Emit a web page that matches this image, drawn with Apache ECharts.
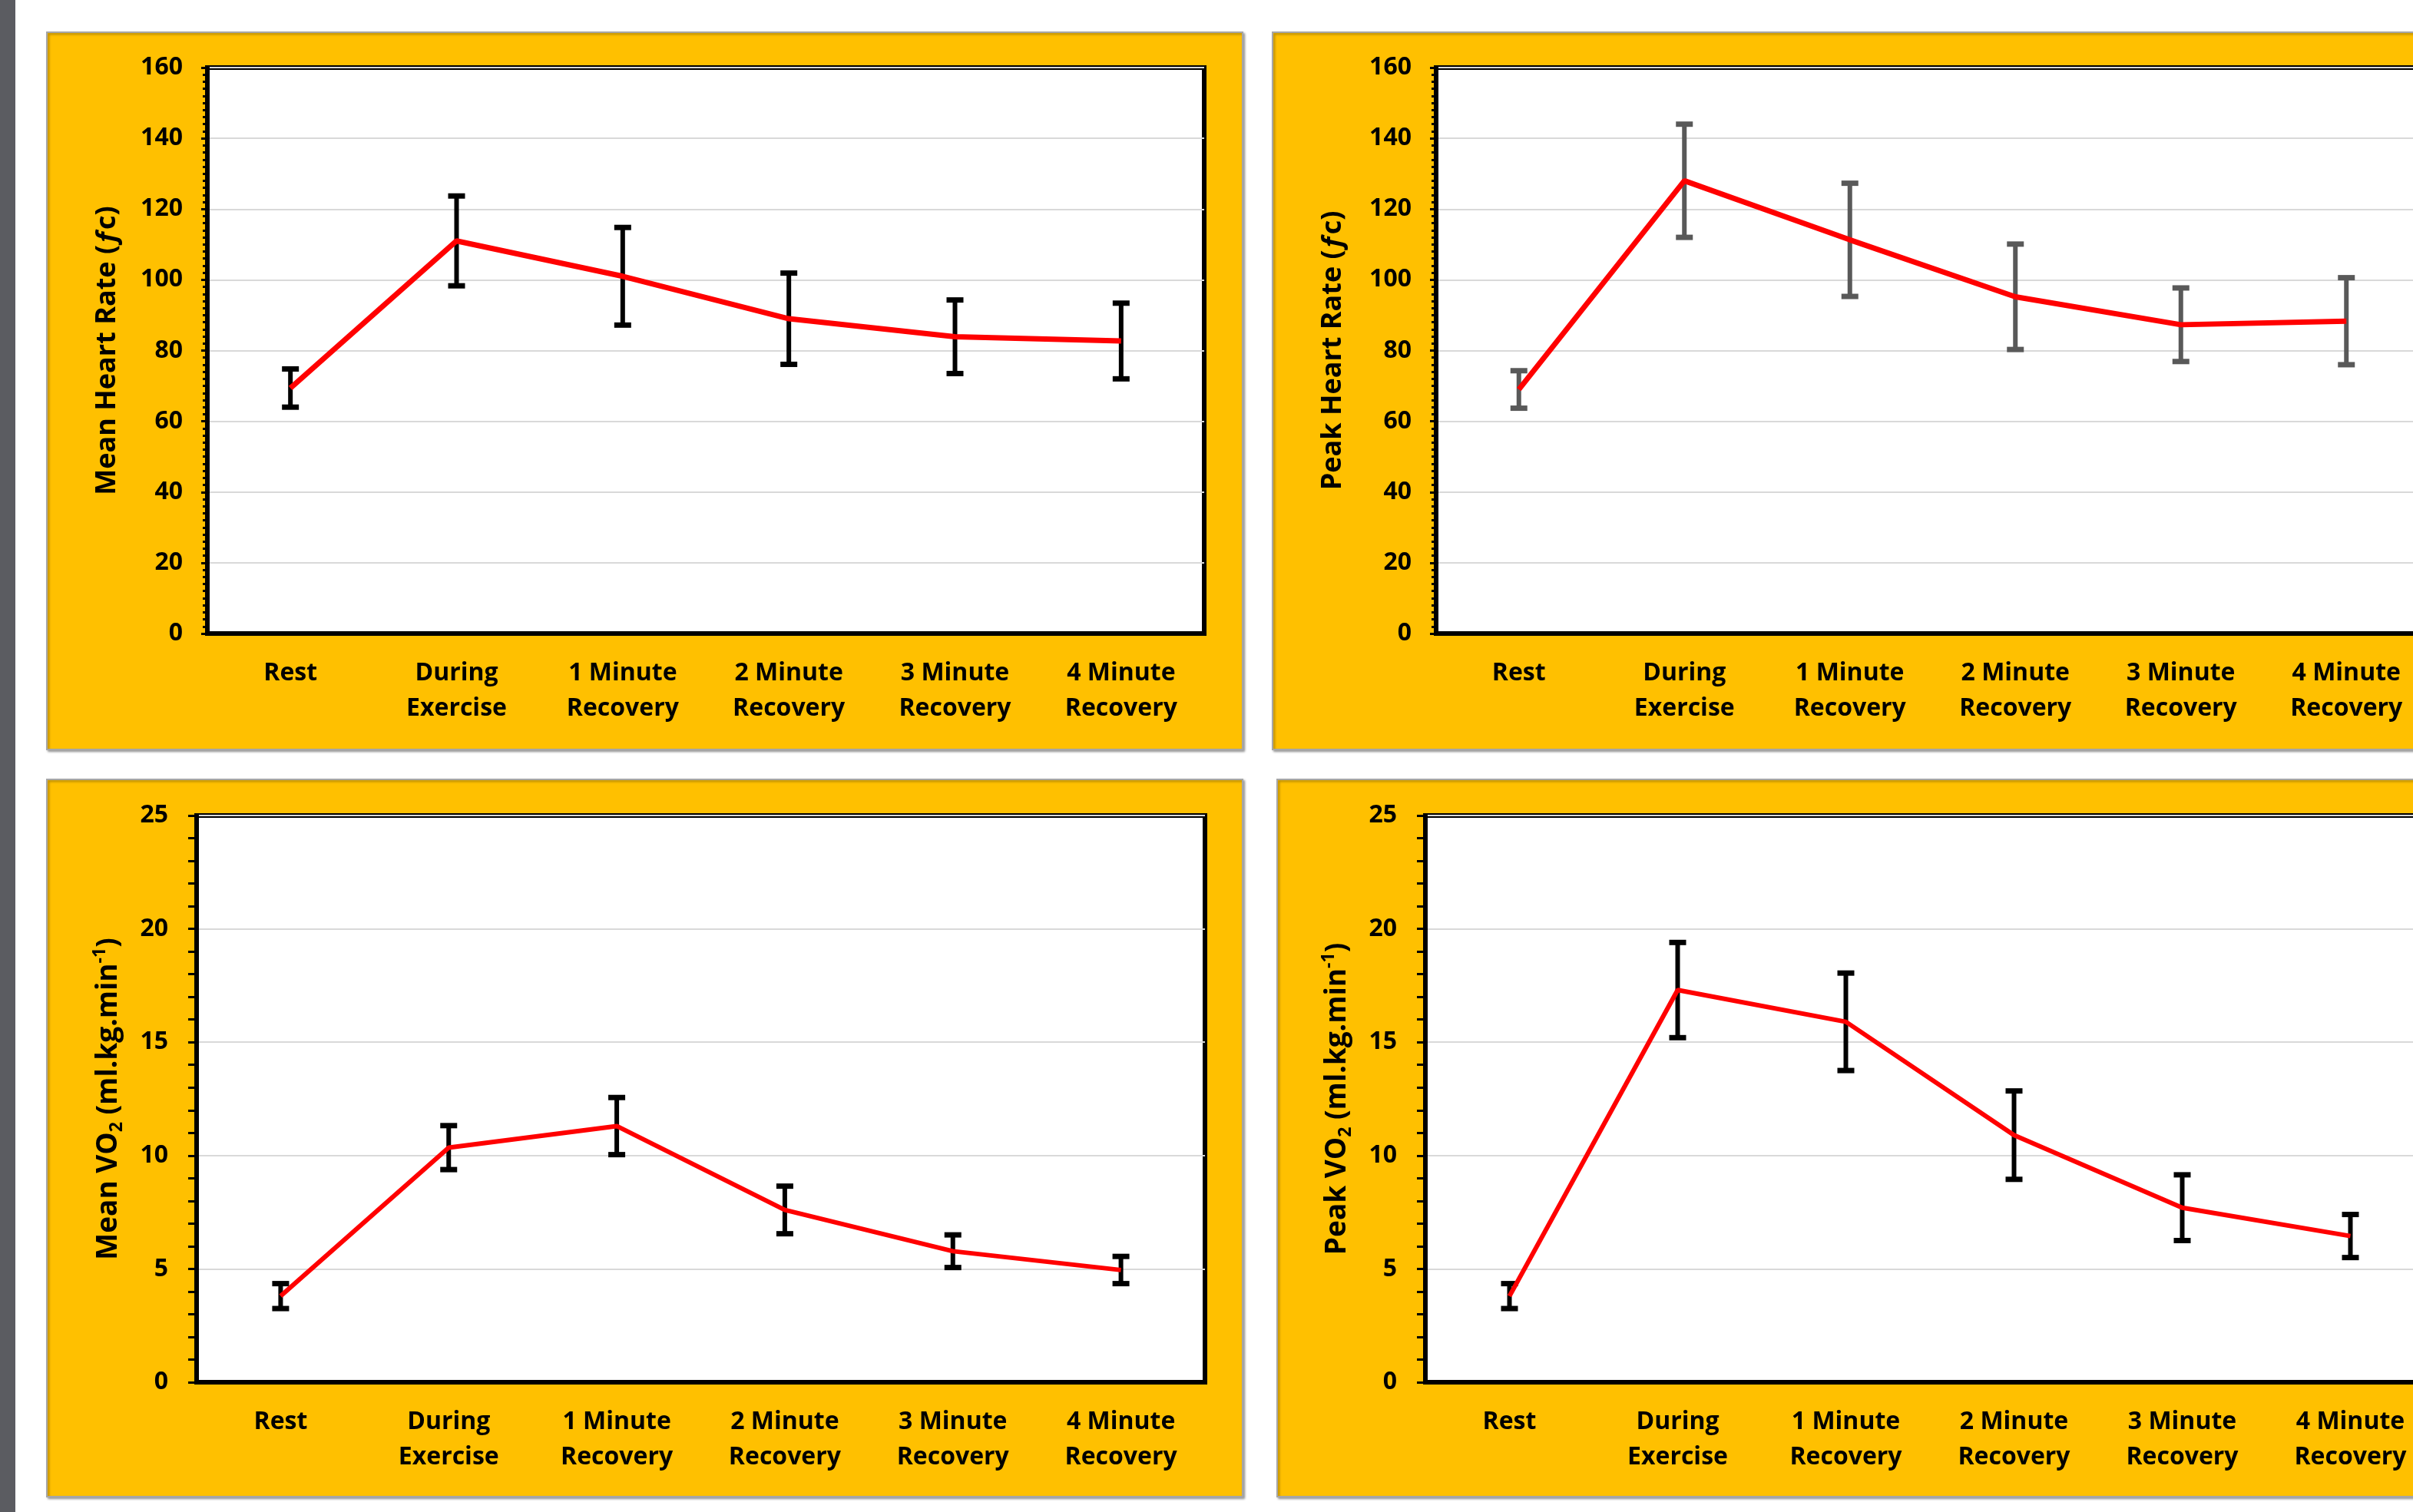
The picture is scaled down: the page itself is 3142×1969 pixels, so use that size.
<!DOCTYPE html>
<html>
<head>
<meta charset="utf-8">
<script src="https://cdn.jsdelivr.net/npm/echarts@6/dist/echarts.min.js"></script>
<style>
html,body{margin:0;padding:0;background:#fff;overflow:hidden;width:3142px;height:1969px;}
#strip{position:absolute;left:0;top:0;width:20px;height:1969px;background:#5b5c61;}
#chart{position:absolute;left:0;top:0;width:3300px;height:1969px;}
</style>
</head>
<body>
<div id="chart"></div>
<div id="strip"></div>
<script>
// ---- data ----
var categories = ['Rest', 'During\nExercise', '1 Minute\nRecovery', '2 Minute\nRecovery', '3 Minute\nRecovery', '4 Minute\nRecovery'];
var meanHR   = [69.4, 111, 101, 89, 83.9, 82.7];
var meanHRsd = [5.4, 12.7, 13.8, 12.9, 10.4, 10.7];
var peakHR   = [69, 128, 111.3, 95.2, 87.3, 88.3];
var peakHRsd = [5.3, 16, 16, 14.9, 10.4, 12.3];
var meanVO2   = [3.8, 10.35, 11.3, 7.6, 5.78, 4.95];
var meanVO2sd = [0.55, 0.97, 1.26, 1.05, 0.72, 0.6];
var peakVO2   = [3.8, 17.3, 15.9, 10.9, 7.7, 6.45];
var peakVO2sd = [0.55, 2.1, 2.15, 1.95, 1.45, 0.95];
var hrTicks  = {min: 0, max: 160, interval: 20};
var vo2Ticks = {min: 0, max: 25, interval: 5};

var FONT = '"Open Sans", "DejaVu Sans", sans-serif';

function errData(m, s) { return m.map(function (v, i) { return [i, v, s[i]]; }); }

function errRender(color, lw, capW) {
  return function (params, api) {
    var x = api.value(0), m = api.value(1), e = api.value(2);
    var hi = api.coord([x, m + e]), lo = api.coord([x, m - e]);
    var st = {stroke: color, lineWidth: lw};
    var cs = {stroke: color, lineWidth: lw + 1};
    return {type: 'group', children: [
      {type: 'line', shape: {x1: hi[0], y1: hi[1], x2: lo[0], y2: lo[1]}, style: st},
      {type: 'line', shape: {x1: hi[0] - capW / 2, y1: hi[1], x2: hi[0] + capW / 2, y2: hi[1]}, style: cs},
      {type: 'line', shape: {x1: lo[0] - capW / 2, y1: lo[1], x2: lo[0] + capW / 2, y2: lo[1]}, style: cs}
    ]};
  };
}

var grids = [
  {left: 270, top: 88, width: 1298, height: 737},
  {left: 1870, top: 88, width: 1293, height: 737},
  {left: 256, top: 1062, width: 1313, height: 738},
  {left: 1856, top: 1062, width: 1314, height: 738}
];
grids.forEach(function (g) {
  g.show = true; g.backgroundColor = '#ffffff'; g.borderColor = '#000'; g.borderWidth = 6; g.containLabel = false;
});

function richFor(fs, sfs) {
  return {
    it: {fontStyle: 'italic', fontSize: fs, fontWeight: 'bold', fontFamily: FONT, color: '#000'},
    sub: {fontSize: sfs, fontWeight: 'bold', fontFamily: FONT, color: '#000', verticalAlign: 'bottom', lineHeight: fs + 8},
    sup: {fontSize: sfs, fontWeight: 'bold', fontFamily: FONT, color: '#000', verticalAlign: 'top', lineHeight: fs + 8}
  };
}

var names = [
  'Mean Heart Rate ({it|ƒ}c)',
  'Peak Heart Rate ({it|ƒ}c)',
  'Mean VO{sub|2} (ml.kg.min{sup|-1})',
  'Peak VO{sub|2} (ml.kg.min{sup|-1})'
];
var nameGaps = [108, 112, 92, 92];
var nameSizes = [36, 36, 37, 37];

var xAxes = [], yAxes = [];
for (var i = 0; i < 4; i++) {
  xAxes.push({
    type: 'category', gridIndex: i, data: categories, boundaryGap: true,
    axisLine: {lineStyle: {color: '#000', width: 6}},
    axisTick: {show: false},
    axisLabel: {color: '#000', fontFamily: FONT, fontWeight: 'bold', fontSize: 32, lineHeight: 46, margin: 29, interval: 0}
  });
  var t = i < 2 ? hrTicks : vo2Ticks;
  yAxes.push({
    type: 'value', gridIndex: i, min: t.min, max: t.max, interval: t.interval,
    name: names[i], nameLocation: 'middle', nameGap: nameGaps[i], nameRotate: 90,
    nameTextStyle: {color: '#000', fontFamily: FONT, fontWeight: 'bold', fontSize: nameSizes[i], lineHeight: nameSizes[i] + 8, rich: richFor(nameSizes[i], 23)},
    axisLine: {show: true, lineStyle: {color: '#000', width: 6}},
    axisTick: {show: true, length: i < 2 ? 8 : 11, lineStyle: {color: '#000', width: 3}},
    minorTick: {show: true, splitNumber: i < 2 ? 10 : 5, length: i < 2 ? 6 : 11, lineStyle: {color: '#000', width: 3}},
    axisLabel: {color: '#000', fontFamily: FONT, fontWeight: 'bold', fontSize: 32, margin: i < 2 ? 32 : 37},
    splitLine: {show: true, lineStyle: {color: '#d9d9d9', width: 2}}
  });
}

var means = [meanHR, peakHR, meanVO2, peakVO2];
var sds = [meanHRsd, peakHRsd, meanVO2sd, peakVO2sd];
var errColors = ['#000000', '#595959', '#000000', '#000000'];
var series = [];
for (var k = 0; k < 4; k++) {
  series.push({
    type: 'custom', xAxisIndex: k, yAxisIndex: k, z: 3,
    renderItem: errRender(errColors[k], 6, 22),
    data: errData(means[k], sds[k]), silent: true
  });
  series.push({
    type: 'line', xAxisIndex: k, yAxisIndex: k, z: 4,
    data: means[k], showSymbol: false, symbol: 'none',
    lineStyle: {color: '#ff0000', width: k < 2 ? 7 : 6}, silent: true, animation: false
  });
}

function panel(x, y, w, h) {
  return {type: 'rect', z: -10, shape: {x: x, y: y, width: w, height: h},
    style: {fill: '#FFC000', stroke: '#a6a6a6', lineWidth: 2,
      shadowBlur: 3, shadowColor: 'rgba(0,0,0,0.35)', shadowOffsetX: 2, shadowOffsetY: 2}};
}

var chart = echarts.init(document.getElementById('chart'), null, {renderer: 'canvas'});
chart.setOption({
  animation: false,
  backgroundColor: '#ffffff',
  graphic: {elements: [
    panel(61, 42, 1557, 934),
    panel(1657, 42, 1700, 934),
    panel(61, 1015, 1557, 934),
    panel(1663, 1015, 1700, 934)
  ]},
  grid: grids,
  xAxis: xAxes,
  yAxis: yAxes,
  series: series
});
</script>
</body>
</html>
